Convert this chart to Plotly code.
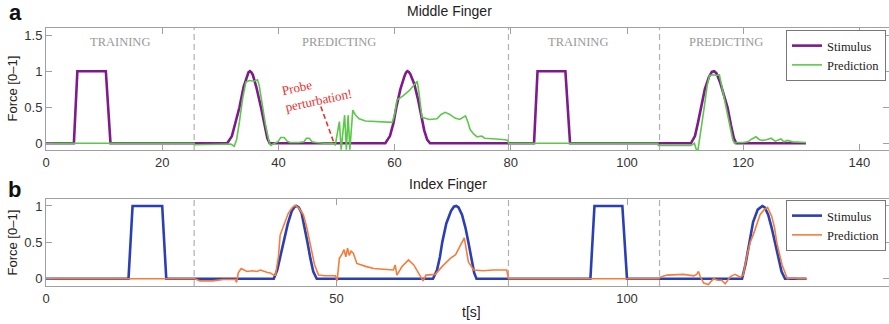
import plotly.graph_objects as go

# ---------------- data ----------------
# Middle finger: stimulus (t [s], force)
mid_stim = [(0, 0), (4.8, 0), (5.4, 1), (10.3, 1), (11.1, 0),
            (31.2, 0), (32.0, 0.1), (32.7, 0.3), (33.3, 0.5), (34.0, 0.78), (34.6, 0.95), (34.85, 0.985),
            (35.1, 1.0), (35.35, 0.985),
            (35.6, 0.95), (36.2, 0.78), (37.0, 0.5), (37.6, 0.25), (38.1, 0.07), (38.5, 0),
            (58.4, 0), (59.2, 0.1), (59.8, 0.28), (60.3, 0.5), (61.0, 0.75), (61.7, 0.93), (61.95, 0.98),
            (62.2, 1.0), (62.45, 0.99),
            (62.7, 0.96), (63.4, 0.82), (64.0, 0.62), (64.5, 0.42), (65.1, 0.18), (65.6, 0.05), (66.1, 0),
            (84.0, 0), (84.6, 1), (89.4, 1), (90.2, 0),
            (111.0, 0), (111.7, 0.1), (112.2, 0.28), (112.7, 0.5), (113.4, 0.75), (114.1, 0.92), (114.6, 0.99),
            (115.0, 1.0), (115.4, 0.97), (116.0, 0.85), (116.7, 0.65), (117.3, 0.5), (117.9, 0.25), (118.4, 0.07),
            (118.8, 0), (130.8, 0)]

# Middle finger: prediction
mid_pred = [(0, 0), (25.5, 0), (25.6, -0.02), (28, -0.02), (31.0, -0.02), (31.8, -0.01), (32.4, -0.04),
            (32.8, 0.05), (33.3, 0.3), (33.8, 0.6), (34.4, 0.85), (35.0, 0.87), (35.8, 0.86), (36.4, 0.88),
            (36.7, 0.8), (37.2, 0.55), (37.8, 0.25), (38.4, 0.02), (38.7, -0.03), (39.3, 0.0), (39.9, 0.02),
            (40.4, 0.08), (41.0, 0.08), (41.5, 0.03), (42.0, 0.01), (43.5, 0.01), (44.4, 0.02), (44.8, 0.07),
            (45.3, 0.07), (45.8, 0.02), (46.5, 0.01), (48.0, 0.0), (49.3, 0.0), (49.8, -0.02), (50.2, 0.15),
            (50.5, 0.3), (50.8, -0.09), (51.1, 0.2), (51.4, 0.39), (51.7, -0.09), (52.0, 0.39), (52.3, -0.09),
            (52.6, 0.2), (52.8, 0.46), (53.2, 0.4), (53.9, 0.34), (55.0, 0.31), (56.7, 0.3), (58.0, 0.3),
            (59.6, 0.29), (60.0, 0.4), (60.4, 0.6), (61.5, 0.66), (62.5, 0.73), (63.9, 0.86), (64.2, 0.7),
            (64.7, 0.36), (66.0, 0.33), (67.3, 0.34), (68.0, 0.4), (68.7, 0.43), (69.5, 0.4), (70.4, 0.35),
            (71.2, 0.33), (72.2, 0.38), (72.6, 0.3), (73.0, 0.19), (73.6, 0.13), (74.2, 0.09), (75.0, 0.1),
            (75.5, 0.07), (76.2, 0.07), (77.5, 0.06), (79.0, 0.05), (79.5, 0.04), (79.6, 0),
            (105.3, 0), (105.4, -0.03), (108, -0.03), (110.5, -0.04), (111.0, -0.03), (111.6, 0.0),
            (111.9, -0.08), (112.2, -0.1), (112.7, 0.15), (113.3, 0.5), (113.8, 0.8), (114.2, 0.94),
            (114.8, 0.95), (115.4, 0.94), (115.9, 0.95), (116.4, 0.75), (117.0, 0.5), (117.6, 0.25),
            (118.2, 0.05), (118.5, 0.0), (118.8, 0.01), (120.0, 0.01), (120.8, 0.02), (121.5, 0.06),
            (122.2, 0.09), (122.8, 0.05), (123.3, 0.04), (124.0, 0.05), (124.8, 0.07), (125.5, 0.03),
            (126.0, 0.05), (126.5, 0.06), (127.0, 0.02), (127.6, 0.04), (128.5, 0.02), (129.5, 0.02),
            (130.8, 0.01)]

# Index finger: stimulus
idx_stim = [(0, 0), (14.2, 0), (14.9, 1), (20.0, 1), (20.7, 0),
            (39.2, 0), (39.8, 0.12), (40.4, 0.33), (40.9, 0.5), (41.6, 0.75), (42.3, 0.93), (42.8, 0.99),
            (43.1, 1.0), (43.5, 0.98), (44.0, 0.9), (44.5, 0.72), (45.0, 0.5), (45.5, 0.28), (46.0, 0.1), (46.6, 0),
            (66.6, 0), (67.3, 0.12), (67.8, 0.3), (68.2, 0.5), (68.9, 0.76), (69.7, 0.93), (70.2, 0.99),
            (70.6, 1.0), (71.0, 0.98), (71.6, 0.88), (72.2, 0.7), (72.7, 0.5), (73.2, 0.27), (73.7, 0.08), (74.1, 0),
            (93.7, 0), (94.4, 1), (99.2, 1), (100.0, 0),
            (119.8, 0), (120.4, 0.2), (120.7, 0.33), (121.0, 0.5), (121.7, 0.78), (122.5, 0.95), (123.0, 0.99),
            (123.3, 1.0), (123.7, 0.98), (124.3, 0.88), (124.9, 0.7), (125.5, 0.5), (126.0, 0.3), (126.6, 0.1),
            (127.2, 0), (130.9, 0)]

# Index finger: prediction
idx_pred = [(0, 0), (25.5, 0), (25.6, 0), (26.5, -0.03), (28.7, -0.03), (30.5, -0.01), (32.6, -0.01),
            (32.8, -0.05), (33.1, 0.08), (33.6, 0.14), (34.0, 0.12), (34.6, 0.1), (35.5, 0.11), (36.3, 0.1),
            (36.9, 0.12), (37.5, 0.1), (38.0, 0.09), (38.6, 0.08), (39.2, 0.05), (39.5, 0.05), (40.0, 0.3),
            (40.3, 0.6), (41.0, 0.76), (41.7, 0.9), (42.4, 0.98), (42.9, 1.01), (43.5, 0.97), (44.3, 0.88),
            (44.9, 0.7), (45.5, 0.46), (46.2, 0.2), (46.9, 0.05), (48.0, 0.04), (49.8, 0.04), (50.1, -0.03),
            (50.5, 0.28), (50.9, 0.33), (51.3, 0.4), (51.6, 0.3), (51.9, 0.42), (52.2, 0.32), (52.5, 0.38),
            (52.9, 0.35), (53.5, 0.21), (54.1, 0.19), (55.0, 0.17), (56.4, 0.14), (58.0, 0.13), (59.8, 0.12),
            (60.1, 0.19), (60.4, 0.05), (61.3, 0.17), (62.4, 0.26), (63.3, 0.19), (64.4, 0.05), (64.9, -0.03),
            (65.4, 0.05), (67.0, 0.06), (68.2, 0.17), (69.6, 0.28), (70.5, 0.33), (71.0, 0.4), (72.0, 0.56),
            (72.7, 0.23), (73.6, 0.12), (75.3, 0.11), (77.0, 0.12), (79.3, 0.12), (79.6, 0),
            (105.5, 0), (105.7, 0.02), (106.9, 0.05), (108.5, 0.06), (109.7, 0.06), (111.5, 0.04), (112.0, 0.06),
            (112.3, 0.1), (112.6, 0.03), (113.2, -0.06), (114.0, -0.08), (114.9, 0.0), (115.6, -0.02),
            (116.3, -0.02), (116.9, -0.07), (117.8, 0.03), (118.6, 0.06), (119.5, 0.02), (120.0, 0.05),
            (120.6, 0.3), (121.2, 0.5), (121.8, 0.62), (122.4, 0.78), (122.9, 0.88), (123.6, 0.95),
            (124.2, 0.98), (124.9, 0.86), (125.4, 0.7), (125.8, 0.49), (126.3, 0.3), (126.7, 0.19),
            (127.6, 0.0), (128.5, 0.01), (129.5, 0.0), (131.0, 0.0)]

# phase boundaries (dashed lines) and phase labels
phase_bounds = [25.5, 79.6, 105.6]
phase_labels = ["TRAINING", "PREDICTING", "TRAINING", "PREDICTING"]
phase_label_t = [12.8, 50.5, 91.6, 117.1]

mid_xticks = [0, 20, 40, 60, 80, 100, 120, 140]
idx_xticks = [0, 50, 100]
mid_yticks = [0, 0.5, 1, 1.5]
idx_yticks = [0, 0.5, 1]

# ---------------- layout helpers ----------------
W, H = 889, 324
ML, MR = 46, 0
PW = W - ML - MR


def px(xp):
    return (xp - ML) / PW


def py(yp):
    return 1 - yp / H


SANS = "Liberation Sans"
SERIF = "Liberation Serif"
FRAME = "#a0a0a0"

C_PURPLE = "#7e1a8c"
C_GREEN = "#5cc84a"
C_BLUE = "#2b3fb5"
C_ORANGE = "#f57d3c"

fig = go.Figure()


def unzip(pairs):
    return [p[0] for p in pairs], [p[1] for p in pairs]


t, v = unzip(mid_stim)
fig.add_trace(go.Scatter(x=t, y=v, mode="lines", name="Stimulus", line=dict(color=C_PURPLE, width=2.6),
                         xaxis="x", yaxis="y", legend="legend"))
t, v = unzip(mid_pred)
fig.add_trace(go.Scatter(x=t, y=v, mode="lines", name="Prediction", line=dict(color=C_GREEN, width=1.6),
                         xaxis="x", yaxis="y", legend="legend"))
t, v = unzip(idx_stim)
fig.add_trace(go.Scatter(x=t, y=v, mode="lines", name="Stimulus", line=dict(color=C_BLUE, width=2.6),
                         xaxis="x2", yaxis="y2", legend="legend2"))
t, v = unzip(idx_pred)
fig.add_trace(go.Scatter(x=t, y=v, mode="lines", name="Prediction", line=dict(color=C_ORANGE, width=1.6),
                         xaxis="x2", yaxis="y2", legend="legend2"))

XMAX = PW / 5.81
axis_common = dict(showline=True, linecolor=FRAME, linewidth=1, mirror="ticks", ticks="inside",
                   ticklen=6, tickcolor=FRAME, showgrid=False, zeroline=False, automargin=False,
                   tickfont=dict(family=SANS, size=13, color="#333"))


def fmt(x):
    return str(int(x)) if x == int(x) else str(x)


legend_common = dict(xanchor="right", yanchor="top", bgcolor="white",
                     bordercolor="#777", borderwidth=1, font=dict(family=SERIF, size=12.5, color="#222"),
                     itemwidth=30, tracegroupgap=0)

fig.update_layout(
    width=W, height=H, margin=dict(l=ML, r=MR, t=0, b=0, autoexpand=False),
    paper_bgcolor="white", plot_bgcolor="white",
    xaxis=dict(domain=[0, 1], range=[0, XMAX], anchor="y", tickvals=mid_xticks, **axis_common),
    yaxis=dict(domain=[py(150), py(27.7)], range=[-0.093, 1.603], anchor="x", tickvals=mid_yticks,
               ticktext=[fmt(x) for x in mid_yticks], **axis_common),
    xaxis2=dict(domain=[0, 1], range=[0, XMAX], anchor="y2", tickvals=idx_xticks, **axis_common),
    yaxis2=dict(domain=[py(286), py(199.3)], range=[-0.100, 1.092], anchor="x2", tickvals=idx_yticks,
                ticktext=[fmt(x) for x in idx_yticks], **axis_common),
    legend=dict(x=px(886), y=py(30), **legend_common),
    legend2=dict(x=px(886), y=py(200), **legend_common),
    showlegend=True,
)

# dashed phase boundaries
for yref, xr in [("y domain", "x"), ("y2 domain", "x2")]:
    for b in phase_bounds:
        fig.add_shape(type="line", xref=xr, yref=yref, x0=b, x1=b, y0=0, y1=1,
                      line=dict(color="#b0b0b0", width=1.2, dash="6px,4px"), layer="below")

# phase labels
for lab, tt in zip(phase_labels, phase_label_t):
    fig.add_annotation(x=tt, y=1.405, xref="x", yref="y", text=lab, showarrow=False,
                       xanchor="center", yanchor="middle",
                       font=dict(family=SERIF, size=12.5, color="#999"))

# probe perturbation pointer
fig.add_shape(type="line", xref="x", yref="y", x0=47.3, y0=0.51, x1=49.5, y1=0.02,
              line=dict(color="#e8312f", width=1.6, dash="5px,3px"))


def note(xp, yp, text, size, color, family=SANS, angle=0, align="center"):
    fig.add_annotation(x=px(xp), y=py(yp), xref="paper", yref="paper", text=text, showarrow=False,
                       xanchor="center", yanchor="middle", textangle=angle, align=align,
                       font=dict(family=family, size=size, color=color))


note(317, 92, "Probe<br>perturbation!", 13, "#e8312f", family=SERIF, angle=-12, align="left")
note(449, 11, "Middle Finger", 14, "#222")
note(448, 184, "Index Finger", 14, "#222")
note(471, 312, "t[s]", 14, "#222")
for yy in [88.5, 242.5]:
    note(12, yy, "Force [0–1]", 13, "#222", angle=-90)
note(15, 13, "<b>a</b>", 22, "#111")
note(14, 189, "<b>b</b>", 22, "#111")

fig.write_html("out.html", config={"displayModeBar": False},
               post_script="document.body.style.margin='0';document.body.style.padding='0';")
